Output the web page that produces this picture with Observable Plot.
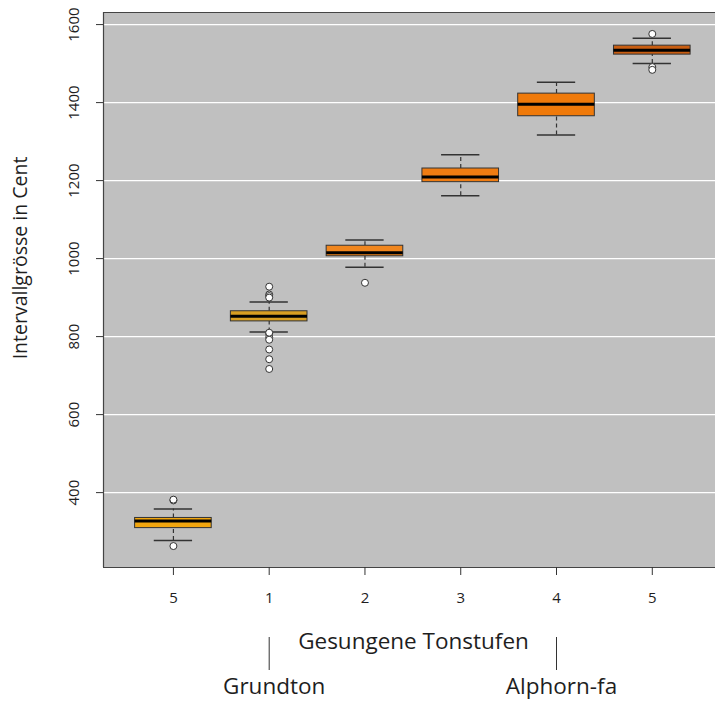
<!DOCTYPE html>
<html><head><meta charset="utf-8">
<script src="https://cdn.jsdelivr.net/npm/d3@7"></script>
<script src="https://cdn.jsdelivr.net/npm/@observablehq/plot@0.6"></script>
<style>body{margin:0;background:#fff;} #chart svg{display:block;}</style>
</head><body><div id="chart"></div>
<script>
const categories = ["5", "1", "2", "3", "4", "5"];
const q1 = [309, 839, 1006, 1196, 1365, 1523];
const medians = [327, 852, 1015, 1209, 1396, 1534];
const q3 = [335, 865, 1033, 1231, 1423, 1546];
const whiskerLow = [277, 812, 978, 1161, 1317, 1500];
const whiskerHigh = [358, 889, 1048, 1266, 1452, 1565];
const boxColors = ["#f2a60f", "#d89e22", "#f0861e", "#ef7c12", "#f07a0a", "#c95e12"];
const outlierGroup = [0, 0, 0, 1, 1, 1, 1, 1, 1, 1, 1, 1, 1, 1, 2, 5, 5, 5];
const outlierValues = [380, 382, 263, 928, 908, 904, 900, 807, 798, 792, 767, 742, 717, 810, 938, 1576, 1491, 1484];
const yTicks = [400, 600, 800, 1000, 1200, 1400, 1600];
const annotations = ["Grundton", "Alphorn-fa"];
const annotationPos = [1, 4];

const idx = categories.map((_, i) => i);
const boxes = idx.map(i => ({i, q1: q1[i], med: medians[i], q3: q3[i], lo: whiskerLow[i], hi: whiskerHigh[i], color: boxColors[i]}));
const outliers = outlierGroup.map((g, k) => ({i: g, v: outlierValues[k]}));
const ink = "#333";
const txt = "#1e1e1e";

const chart = Plot.plot({
  width: 715, height: 702,
  marginTop: 12, marginBottom: 135, marginLeft: 103, marginRight: 0,
  style: {fontFamily: "Open Sans, sans-serif", background: "#fff"},
  x: {type: "linear", domain: [-0.73, 5.66], axis: null},
  y: {domain: [208, 1631], axis: null},
  marks: [
    Plot.frame({fill: "#c0c0c0", stroke: "none"}),
    Plot.ruleY(yTicks, {stroke: "#fff", strokeWidth: 1.2}),
    // whiskers
    Plot.ruleX(boxes, {x: "i", y1: "lo", y2: "q1", stroke: ink, strokeDasharray: "4,3", strokeWidth: 1.2}),
    Plot.ruleX(boxes, {x: "i", y1: "q3", y2: "hi", stroke: ink, strokeDasharray: "4,3", strokeWidth: 1.2}),
    Plot.ruleY(boxes, {y: "lo", x1: d => d.i - 0.2, x2: d => d.i + 0.2, stroke: ink, strokeWidth: 1.5}),
    Plot.ruleY(boxes, {y: "hi", x1: d => d.i - 0.2, x2: d => d.i + 0.2, stroke: ink, strokeWidth: 1.5}),
    // boxes
    Plot.rect(boxes, {x1: d => d.i - 0.4, x2: d => d.i + 0.4, y1: "q1", y2: "q3", fill: "color", stroke: ink, strokeWidth: 1}),
    Plot.ruleY(boxes, {y: "med", x1: d => d.i - 0.4, x2: d => d.i + 0.4, stroke: "#000", strokeWidth: 3}),
    // outliers
    Plot.dot(outliers, {x: "i", y: "v", r: 3.5, fill: "#fff", stroke: ink, strokeWidth: 1}),
    // frame border
    Plot.ruleX([-0.73], {stroke: "#444", strokeWidth: 1.2}),
    Plot.ruleY([208, 1631], {stroke: "#444", strokeWidth: 1.2}),
    // y ticks & labels
    Plot.ruleY(yTicks, {y: d => d, insetRight: 605, dx: -7, stroke: ink}),
    Plot.text(yTicks, {y: d => d, text: d => String(d), frameAnchor: "left", textAnchor: "middle", lineAnchor: "middle", dx: -29, rotate: -90, fontSize: 15, fill: txt}),
    Plot.text(["Intervallgrösse in Cent"], {frameAnchor: "left", textAnchor: "middle", lineAnchor: "middle", dx: -83, dy: -32, rotate: -90, fontSize: 19.5, fill: txt}),
    // x ticks & labels
    Plot.ruleX(idx, {x: d => d, insetTop: 547, dy: 8, stroke: ink}),
    Plot.text(idx, {x: d => d, text: d => categories[d], frameAnchor: "bottom", textAnchor: "middle", lineAnchor: "middle", dy: 31, fontSize: 15, fill: txt}),
    Plot.text(["Gesungene Tonstufen"], {frameAnchor: "bottom", textAnchor: "middle", lineAnchor: "middle", dx: 4, dy: 74, fontSize: 22.5, fill: txt}),
    // annotations
    Plot.ruleX(annotationPos, {x: d => d, insetTop: 522, dy: 103, stroke: ink}),
    Plot.text(annotations, {x: (d, k) => annotationPos[k], text: d => d, frameAnchor: "bottom", textAnchor: "middle", lineAnchor: "middle", dx: 5, dy: 119, fontSize: 22.5, fill: txt})
  ]
});
document.getElementById("chart").appendChild(chart);
</script>
</body></html>
